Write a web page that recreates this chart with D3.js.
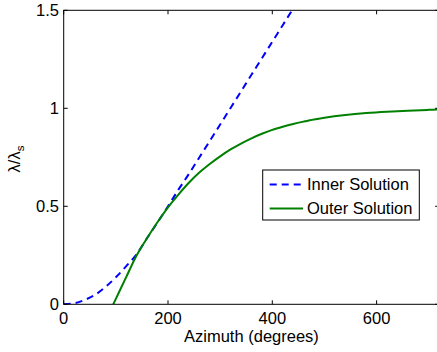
<!DOCTYPE html>
<html>
<head>
<meta charset="utf-8">
<script src="https://cdn.jsdelivr.net/npm/d3@7"></script>
<style>
  html, body { margin: 0; padding: 0; background: #fff; }
  svg { display: block; }
  text { font-family: "Liberation Sans", Arial, sans-serif; fill: #000; }
</style>
</head>
<body>
<svg id="chart" width="437" height="352"></svg>
<script>
// ---- data ----
const innerAzimuth = [0, 20, 40, 60, 80, 100, 120, 140, 160, 180, 200, 220, 240, 260, 280, 300, 320, 340, 360, 380, 400, 420, 440, 460];
const innerValues  = [0, 0.005, 0.022, 0.048, 0.088, 0.138, 0.195, 0.256, 0.338, 0.418, 0.50, 0.585, 0.665, 0.749, 0.833, 0.917, 1.002, 1.086, 1.171, 1.255, 1.34, 1.424, 1.509, 1.593];
const outerAzimuth = [95, 100, 120, 140, 160, 180, 200, 220, 240, 260, 280, 300, 320, 340, 360, 380, 400, 420, 440, 460, 480, 500, 540, 580, 620, 660, 700, 720];
const outerValues  = [0, 0.028, 0.14, 0.25, 0.338, 0.42, 0.495, 0.56, 0.62, 0.672, 0.716, 0.755, 0.79, 0.82, 0.847, 0.87, 0.89, 0.906, 0.92, 0.932, 0.943, 0.952, 0.966, 0.976, 0.983, 0.988, 0.992, 0.994];
const xTicks = [0, 200, 400, 600];
const yTicks = [0, 0.5, 1, 1.5];
const yTickLabels = ["0", "0.5", "1", "1.5"];
const seriesNames = ["Inner Solution", "Outer Solution"];
const xLabel = "Azimuth (degrees)";

// ---- layout ----
const svg = d3.select("#chart");
const mLeft = 63.7, mRight = 439.2, mTop = 10.3, mBottom = 304.3;
const x = d3.scaleLinear().domain([0, 720]).range([mLeft, mRight]);
const y = d3.scaleLinear().domain([0, 1.5]).range([mBottom, mTop]);
const fs = 16.5;

svg.append("defs").append("clipPath").attr("id", "clip")
  .append("rect").attr("x", mLeft).attr("y", mTop)
  .attr("width", mRight - mLeft).attr("height", mBottom - mTop);

// curves
const line = d3.line().curve(d3.curveMonotoneX);
const g = svg.append("g").attr("clip-path", "url(#clip)");
g.append("path")
  .attr("d", line(innerAzimuth.map((d, i) => [x(d), y(innerValues[i])])))
  .attr("fill", "none").attr("stroke", "#0000ff").attr("stroke-width", 2)
  .attr("stroke-dasharray", "7,5");
g.append("path")
  .attr("d", line(outerAzimuth.map((d, i) => [x(d), y(outerValues[i])])))
  .attr("fill", "none").attr("stroke", "#008000").attr("stroke-width", 2);

// axes (MATLAB style: box with inward ticks)
const tl = 4;
const axG = svg.append("g").attr("stroke", "#000").attr("stroke-width", 1).attr("fill", "none");
axG.append("rect").attr("x", mLeft).attr("y", mTop).attr("width", mRight - mLeft).attr("height", mBottom - mTop);
xTicks.forEach(t => {
  axG.append("line").attr("x1", x(t)).attr("x2", x(t)).attr("y1", mBottom).attr("y2", mBottom - tl);
  axG.append("line").attr("x1", x(t)).attr("x2", x(t)).attr("y1", mTop).attr("y2", mTop + tl);
});
yTicks.forEach(t => {
  axG.append("line").attr("x1", mLeft).attr("x2", mLeft + tl).attr("y1", y(t)).attr("y2", y(t));
  axG.append("line").attr("x1", mRight).attr("x2", mRight - tl).attr("y1", y(t)).attr("y2", y(t));
});

// tick labels
svg.append("g").selectAll("text").data(xTicks).join("text")
  .attr("x", d => x(d)).attr("y", 324)
  .attr("text-anchor", "middle").attr("font-size", fs)
  .text(d => d);
svg.append("g").selectAll("text").data(yTicks).join("text")
  .attr("x", 59).attr("y", d => y(d)).attr("dy", "0.36em")
  .attr("text-anchor", "end").attr("font-size", fs)
  .text((d, i) => yTickLabels[i]);

// axis labels
svg.append("text").attr("x", (mLeft + mRight) / 2).attr("y", 341.5)
  .attr("text-anchor", "middle").attr("font-size", fs).text(xLabel);
const yl = svg.append("text")
  .attr("transform", "translate(19.5,159) rotate(-90)")
  .attr("text-anchor", "middle").attr("font-size", fs);
yl.append("tspan").text("λ/λ");
yl.append("tspan").attr("font-size", fs * 0.7).attr("dy", 4).text("s");

// legend
const lg = svg.append("g");
lg.append("rect").attr("x", 262.7).attr("y", 170).attr("width", 156.6).attr("height", 50)
  .attr("fill", "#fff").attr("stroke", "#000").attr("stroke-width", 1);
const ly = [184.5, 208.5];
lg.append("line").attr("x1", 269.7).attr("x2", 303).attr("y1", ly[0]).attr("y2", ly[0])
  .attr("stroke", "#0000ff").attr("stroke-width", 2).attr("stroke-dasharray", "7,5");
lg.append("line").attr("x1", 269.7).attr("x2", 303).attr("y1", ly[1]).attr("y2", ly[1])
  .attr("stroke", "#008000").attr("stroke-width", 2);
seriesNames.forEach((n, i) => {
  lg.append("text").attr("x", 307).attr("y", ly[i]).attr("dy", "0.36em")
    .attr("font-size", fs).text(n);
});
</script>
</body>
</html>
